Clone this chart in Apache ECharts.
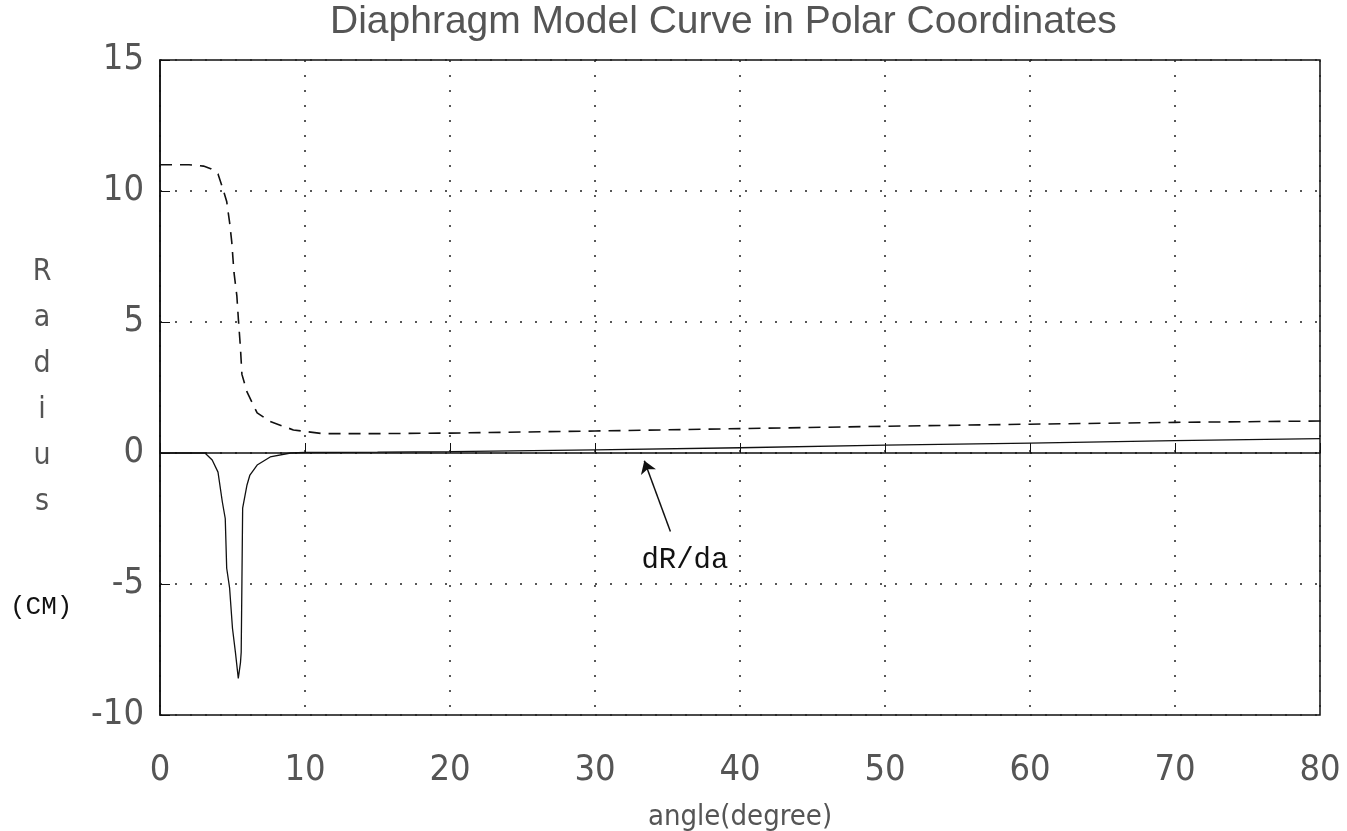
<!DOCTYPE html>
<html>
<head>
<meta charset="utf-8">
<script src="https://cdn.jsdelivr.net/npm/echarts@6/dist/echarts.min.js"></script>
<style>html,body{margin:0;padding:0;background:#fff;}#chart{width:1347px;height:831px;}</style>
</head>
<body>
<div id="chart"></div>
<script>
// Dashed curve (radius)
const rAngle = [0, 1, 2, 3, 3.5, 4.0, 4.3, 4.6, 4.8, 4.95, 5.1, 5.3, 5.4, 5.55, 5.65, 6.0, 6.7, 7.6, 9.2, 11.2, 15, 20, 30, 40, 50, 60, 70, 80];
const rValue = [11.0, 11.0, 11.0, 10.95, 10.85, 10.65, 10.15, 9.6, 8.8, 8.05, 6.9, 6.0, 5.15, 4.0, 3.0, 2.33, 1.53, 1.2, 0.88, 0.74, 0.74, 0.76, 0.84, 0.93, 1.02, 1.1, 1.17, 1.22];
// Solid curve dR/da
const dAngle = [0, 1, 2, 3.1, 3.6, 4.0, 4.3, 4.5, 4.6, 4.8, 5.0, 5.2, 5.4, 5.45, 5.55, 5.6, 5.65, 5.7, 6.0, 6.2, 6.7, 7.6, 9.0, 10, 15, 20, 30, 40, 50, 60, 70, 80];
const dValue = [0, 0, 0, 0, -0.27, -0.73, -1.87, -2.5, -4.4, -5.15, -6.7, -7.6, -8.6, -8.66, -8.0, -7.6, -4.9, -2.1, -1.22, -0.84, -0.46, -0.15, 0, 0.02, 0.03, 0.05, 0.12, 0.2, 0.3, 0.38, 0.47, 0.55];
// Axis ticks
const xTicks = [0, 10, 20, 30, 40, 50, 60, 70, 80];
const yTicks = [-10, -5, 0, 5, 10, 15];
// Annotation
const arrowFrom = [35.2, -3.0];
const arrowTo = [33.4, -0.3];
const annoPos = [36.2, -4.1];

const narrow = "'DejaVu Sans Condensed', 'Liberation Sans', sans-serif";
const mono = "'Liberation Mono', 'DejaVu Sans Mono', monospace";

const chart = echarts.init(document.getElementById('chart'));
const grid = {left: 160, right: 27, top: 60, bottom: 116};
chart.setOption({
  backgroundColor: '#fff',
  animation: false,
  title: {
    text: 'Diaphragm Model Curve in Polar Coordinates',
    left: 325, top: -2,
    textStyle: {fontFamily: "'Liberation Sans', sans-serif", fontSize: 39, fontWeight: 'normal', color: '#555'}
  },
  grid: Object.assign({show: true, borderColor: '#111', borderWidth: 1.5, backgroundColor: 'transparent', containLabel: false, outerBoundsMode: 'none'}, grid),
  xAxis: {
    type: 'value', min: xTicks[0], max: xTicks[xTicks.length - 1], interval: 10,
    name: 'angle(degree)', nameLocation: 'middle', nameGap: 88,
    nameTextStyle: {fontFamily: narrow, fontSize: 29, color: '#555'},
    axisLine: {show: true, lineStyle: {color: '#111', width: 1.5}},
    axisTick: {show: true, inside: true, length: 10, lineStyle: {color: '#111'}},
    axisLabel: {fontFamily: narrow, fontSize: 36, color: '#555', margin: 38},
    splitLine: {show: true, lineStyle: {color: '#222', width: 1.5, type: [2, 13]}}
  },
  yAxis: {
    type: 'value', min: yTicks[0], max: yTicks[yTicks.length - 1], interval: 5,
    name: 'R\na\nd\ni\nu\ns', nameLocation: 'middle', nameGap: 118, nameRotate: 0,
    nameTextStyle: {fontFamily: narrow, fontSize: 30, lineHeight: 46, color: '#555', align: 'center', verticalAlign: 'middle'},
    axisLine: {show: true, lineStyle: {color: '#111', width: 1.5}},
    axisTick: {show: true, inside: true, length: 10, lineStyle: {color: '#111'}},
    axisLabel: {fontFamily: narrow, fontSize: 36, color: '#555', margin: 16},
    splitLine: {show: true, lineStyle: {color: '#222', width: 1.5, type: [2, 13]}}
  },
  graphic: [
    {type: 'text', left: 10, top: 594, style: {text: '(CM)', font: "26px " + mono, fill: '#111'}}
  ],
  series: [
    {
      type: 'line', name: 'R', showSymbol: false, smooth: false,
      data: rAngle.map((a, i) => [a, rValue[i]]),
      lineStyle: {color: '#111', width: 1.6, type: [12, 8]}
    },
    {
      type: 'line', name: 'dR/da', showSymbol: false, smooth: false,
      data: dAngle.map((a, i) => [a, dValue[i]]),
      lineStyle: {color: '#111', width: 1.3},
      markLine: {
        silent: true, symbol: ['none', 'arrow'], symbolSize: 12,
        lineStyle: {color: '#111', width: 1.5, type: 'solid'},
        label: {show: false},
        data: [[{coord: arrowFrom}, {coord: arrowTo}]]
      },
      markPoint: {
        symbol: 'circle', symbolSize: 0,
        label: {show: true, formatter: 'dR/da', fontFamily: mono, fontSize: 29, color: '#111'},
        data: [{coord: annoPos}]
      }
    }
  ]
});
</script>
</body>
</html>
